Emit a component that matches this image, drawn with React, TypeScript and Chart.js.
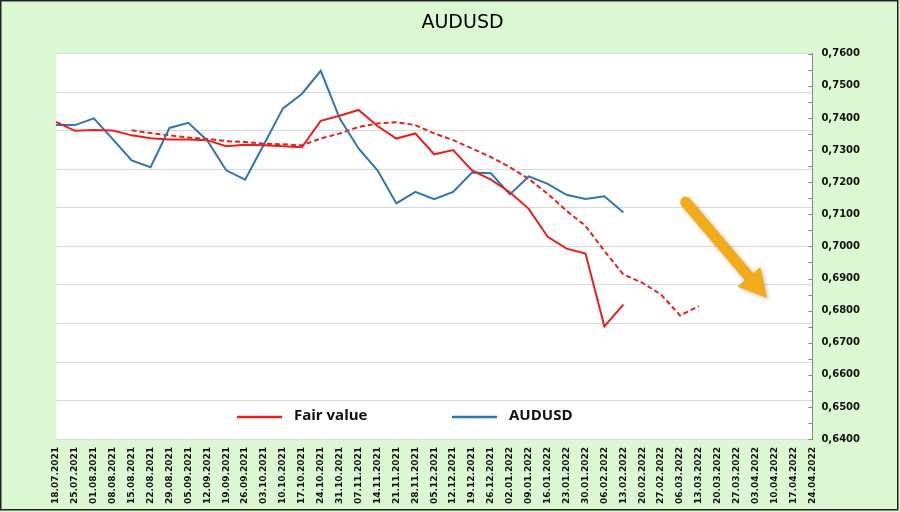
import { useEffect, useRef } from 'react';
import { Chart, registerables } from 'chart.js';
Chart.register(...registerables);

const labels = [
  '18.07.2021','25.07.2021','01.08.2021','08.08.2021','15.08.2021','22.08.2021','29.08.2021',
  '05.09.2021','12.09.2021','19.09.2021','26.09.2021','03.10.2021','10.10.2021','17.10.2021',
  '24.10.2021','31.10.2021','07.11.2021','14.11.2021','21.11.2021','28.11.2021','05.12.2021',
  '12.12.2021','19.12.2021','26.12.2021','02.01.2022','09.01.2022','16.01.2022','23.01.2022',
  '30.01.2022','06.02.2022','13.02.2022','20.02.2022','27.02.2022','06.03.2022','13.03.2022',
  '20.03.2022','27.03.2022','03.04.2022','10.04.2022','17.04.2022','24.04.2022',
];

const audusd = [
  0.7378,0.7378,0.7399,0.7334,0.7268,0.7247,0.7369,0.7385,0.7330,0.7237,0.7208,0.7318,0.7430,
  0.7475,0.7547,0.7399,0.7305,0.7237,0.7134,0.7170,0.7147,0.7170,0.7230,0.7228,0.7162,0.7218,
  0.7195,0.7161,0.7148,0.7156,0.7106,
];

const fairValue = [
  0.7388,0.7360,0.7363,0.7361,0.7346,0.7337,0.7333,0.7333,0.7331,0.7312,0.7317,0.7315,0.7312,
  0.7309,0.7391,0.7407,0.7425,0.7375,0.7336,0.7352,0.7287,0.7300,0.7237,0.7208,0.7169,0.7117,
  0.7030,0.6993,0.6978,0.6751,0.6819,
];

const fairTrendStart = 4;
const fairTrend = [
  0.7362,0.7353,0.7346,0.7339,0.7335,0.7328,0.7325,0.7320,0.7318,0.7315,0.7336,0.7352,0.7372,
  0.7383,0.7387,0.7378,0.7352,0.7331,0.7305,0.7278,0.7247,0.7210,0.7164,0.7111,0.7064,0.6986,
  0.6913,0.6887,0.6850,0.6785,0.6814,
];

const yMin = 0.64;
const yMax = 0.76;
const yStep = 0.005;
const gridDivisions = 10;

// annotation arrow: [category index, value]
const arrowFrom = [33.3, 0.7138];
const arrowTo = [37.6, 0.6839];

const legendItems = ['Fair value', 'AUDUSD'];

function pad(arr: (number | null)[], start: number, len: number) {
  const out: (number | null)[] = [];
  for (let i = 0; i < len; i++) {
    const j = i - start;
    out.push(j >= 0 && j < arr.length ? arr[j] : null);
  }
  return out;
}

const RED = '#E8201C';
const BLUE = '#2E75B6';
const GREEN_BG = '#DCF8D3';

export default function App() {
  const ref = useRef<HTMLCanvasElement>(null);

  useEffect(() => {
    document.body.style.margin = '0';
    const n = labels.length;

    const bgPlugin = {
      id: 'bg',
      beforeDraw(chart: any) {
        const { ctx, width, height, chartArea } = chart;
        ctx.save();
        ctx.fillStyle = GREEN_BG;
        ctx.fillRect(0, 0, width, height);
        ctx.strokeStyle = '#222';
        ctx.lineWidth = 1.5;
        ctx.strokeRect(0.75, 0.75, width - 3, height - 3);
        ctx.fillStyle = '#fff';
        ctx.fillRect(chartArea.left, chartArea.top, chartArea.right - chartArea.left, chartArea.bottom - chartArea.top);
        ctx.restore();
      },
    };

    const overlayPlugin = {
      id: 'overlay',
      afterDatasetsDraw(chart: any) {
        const { ctx, chartArea } = chart;
        const xs = chart.scales.x;
        const ys = chart.scales.y;
        ctx.save();
        // inner tick marks on right axis
        ctx.strokeStyle = '#868686';
        ctx.lineWidth = 1;
        ys.ticks.forEach((_t: any, i: number) => {
          const py = Math.round(ys.getPixelForTick(i)) + 0.5;
          ctx.beginPath();
          ctx.moveTo(chartArea.right - 4, py);
          ctx.lineTo(chartArea.right, py);
          ctx.stroke();
        });

        // arrow
        const x1 = xs.getPixelForValue(arrowFrom[0]);
        const y1 = ys.getPixelForValue(arrowFrom[1]);
        const x2 = xs.getPixelForValue(arrowTo[0]);
        const y2 = ys.getPixelForValue(arrowTo[1]);
        const dx = x2 - x1, dy = y2 - y1;
        const len = Math.hypot(dx, dy);
        const ux = dx / len, uy = dy / len;
        const px = -uy, py = ux;
        const headLen = 28, headW = 30;
        const bx = x2 - ux * headLen, by = y2 - uy * headLen;
        ctx.shadowColor = 'rgba(0,0,0,0.25)';
        ctx.shadowBlur = 4;
        ctx.shadowOffsetX = 1.5;
        ctx.shadowOffsetY = 1.5;
        ctx.strokeStyle = '#F1AC18';
        ctx.fillStyle = '#F1AC18';
        ctx.lineWidth = 11;
        ctx.lineCap = 'round';
        ctx.beginPath();
        ctx.moveTo(x1, y1);
        ctx.lineTo(bx + ux * 2, by + uy * 2);
        ctx.stroke();
        ctx.beginPath();
        ctx.moveTo(x2, y2);
        ctx.lineTo(bx + px * headW / 2, by + py * headW / 2);
        ctx.lineTo(bx - px * headW / 2, by - py * headW / 2);
        ctx.closePath();
        ctx.fill();
        ctx.shadowColor = 'transparent';

        // legend inside plot
        const ly = chartArea.bottom - 23;
        const items = [
          { text: legendItems[0], color: chart.data.datasets[0].borderColor, x: chartArea.left + 181 },
          { text: legendItems[1], color: chart.data.datasets[1].borderColor, x: chartArea.left + 396 },
        ];
        ctx.font = 'bold 15px "Open Sans"';
        ctx.textBaseline = 'middle';
        ctx.textAlign = 'left';
        items.forEach((it) => {
          ctx.strokeStyle = it.color;
          ctx.lineWidth = 2.5;
          ctx.lineCap = 'butt';
          ctx.beginPath();
          ctx.moveTo(it.x, ly + 1);
          ctx.lineTo(it.x + 45, ly + 1);
          ctx.stroke();
          ctx.fillStyle = '#111';
          ctx.fillText(it.text, it.x + 57, ly);
        });
        ctx.restore();
      },
    };

    const chart = new Chart(ref.current!, {
      type: 'line',
      data: {
        labels,
        datasets: [
          {
            label: 'Fair value',
            data: pad(fairValue, 0, n),
            borderColor: RED,
            borderWidth: 2,
            pointRadius: 0,
            yAxisID: 'y',
            spanGaps: false,
          },
          {
            label: 'AUDUSD',
            data: pad(audusd, 0, n),
            borderColor: BLUE,
            borderWidth: 2,
            pointRadius: 0,
            yAxisID: 'y',
            spanGaps: false,
          },
          {
            label: 'Fair value trend',
            data: pad(fairTrend, fairTrendStart, n),
            borderColor: RED,
            borderWidth: 2,
            borderDash: [5, 3],
            pointRadius: 0,
            yAxisID: 'y',
            spanGaps: false,
          },
        ],
      },
      options: {
        responsive: false,
        animation: false,
        devicePixelRatio: 1,
        layout: { padding: { left: 56, right: 31, top: 0, bottom: 8 } },
        plugins: {
          legend: { display: false },
          tooltip: { enabled: false },
          title: {
            display: true,
            text: 'AUDUSD',
            color: '#000',
            font: { family: '"DejaVu Sans"', size: 19, weight: 'normal' },
            padding: { top: 12, bottom: 19 },
          },
        },
        scales: {
          x: {
            type: 'category',
            offset: false,
            grid: { display: false },
            border: { display: false },
            ticks: {
              autoSkip: false,
              minRotation: 90,
              maxRotation: 90,
              padding: 0,
              color: '#111',
              font: { family: '"DejaVu Sans"', size: 9, weight: 'bold' },
            },
          },
          yg: {
            type: 'linear',
            position: 'left',
            min: 0,
            max: gridDivisions,
            ticks: { display: false, stepSize: 1 },
            grid: { color: '#D9D9D9', lineWidth: 1, drawTicks: false },
            border: { display: false },
          },
          y: {
            type: 'linear',
            position: 'right',
            min: yMin,
            max: yMax,
            grid: { drawOnChartArea: false, drawTicks: false },
            border: { display: true, color: '#868686', width: 1 },
            ticks: {
              stepSize: yStep,
              autoSkip: false,
              padding: 9,
              color: '#111',
              font: { family: '"DejaVu Sans"', size: 10, weight: 'bold' },
              callback: (v: any) => {
                const k = Number(v) * 100;
                return Math.abs(k - Math.round(k)) < 1e-6 ? Number(v).toFixed(4).replace('.', ',') : '';
              },
            },
          },
        },
      },
      plugins: [bgPlugin, overlayPlugin],
    } as any);
    return () => chart.destroy();
  }, []);

  return (
    <div style={{ width: 900, height: 512 }}>
      <canvas ref={ref} width={900} height={512} style={{ display: 'block' }} />
    </div>
  );
}
